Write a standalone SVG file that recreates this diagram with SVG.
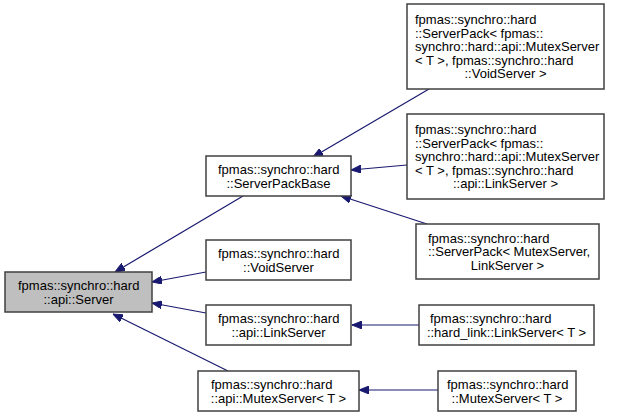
<svg xmlns="http://www.w3.org/2000/svg" width="620" height="417" viewBox="0 0 620 417">
<defs>
<marker id="arr" markerWidth="10" markerHeight="8" refX="10" refY="4" orient="auto" markerUnits="userSpaceOnUse">
<path d="M0,0 L10,4 L0,8 Z" fill="#191970" stroke="#191970" stroke-width="1"/>
</marker>
</defs>
<style>
rect{fill:#ffffff;stroke:#404040;stroke-width:1.5}
rect.cur{fill:#bfbfbf}
text{font-family:"Liberation Sans",Arial,sans-serif;font-size:13px;fill:#000}
.m{text-anchor:middle}
.e{fill:none;stroke:#191970;stroke-width:1.2;marker-end:url(#arr)}
</style>
<rect x="0" y="0" width="620" height="417" style="fill:#fff;stroke:none"/>
<g id="edges">
<path class="e" d="M243,196 L115,272"/>
<path class="e" d="M206,272 L152,282"/>
<path class="e" d="M206,313 L152,303"/>
<path class="e" d="M228,371 L113,314"/>
<path class="e" d="M429,89 L313,157"/>
<path class="e" d="M407,165 L351,170"/>
<path class="e" d="M427,224 L341,196"/>
<path class="e" d="M419,325 L352,325"/>
<path class="e" d="M438,390 L359,390"/>
</g>
<g id="server">
<rect class="cur" x="5" y="272" width="147" height="40"/>
<text x="18" y="290">fpmas::synchro::hard</text>
<text class="m" x="78.5" y="303.5">::api::Server</text>
</g>
<g id="serverpackbase">
<rect x="206" y="156" width="145" height="40"/>
<text x="218" y="174">fpmas::synchro::hard</text>
<text class="m" x="278.5" y="187.5">::ServerPackBase</text>
</g>
<g id="voidserver">
<rect x="206" y="240" width="145" height="40"/>
<text x="218" y="258">fpmas::synchro::hard</text>
<text class="m" x="278.5" y="271.5">::VoidServer</text>
</g>
<g id="api_linkserver">
<rect x="206" y="305" width="145" height="40"/>
<text x="218" y="323">fpmas::synchro::hard</text>
<text class="m" x="278.5" y="336.5">::api::LinkServer</text>
</g>
<g id="api_mutexserver">
<rect x="198" y="371" width="161" height="40"/>
<text x="211" y="389">fpmas::synchro::hard</text>
<text class="m" x="278.5" y="402.5">::api::MutexServer&lt; T &gt;</text>
</g>
<g id="serverpack_void">
<rect x="407" y="4" width="197" height="85"/>
<text x="415" y="24">fpmas::synchro::hard</text>
<text x="415" y="37.5">::ServerPack&lt; fpmas::</text>
<text x="415" y="51">synchro::hard::api::MutexServer</text>
<text x="415" y="64.5">&lt; T &gt;, fpmas::synchro::hard</text>
<text class="m" x="505.5" y="78">::VoidServer &gt;</text>
</g>
<g id="serverpack_link">
<rect x="407" y="114" width="197" height="85"/>
<text x="415" y="134">fpmas::synchro::hard</text>
<text x="415" y="147.5">::ServerPack&lt; fpmas::</text>
<text x="415" y="161">synchro::hard::api::MutexServer</text>
<text x="415" y="174.5">&lt; T &gt;, fpmas::synchro::hard</text>
<text class="m" x="505.5" y="188">::api::LinkServer &gt;</text>
</g>
<g id="serverpack_mutex_link">
<rect x="416" y="224" width="183" height="55"/>
<text x="428" y="242.5">fpmas::synchro::hard</text>
<text x="428" y="256">::ServerPack&lt; MutexServer,</text>
<text class="m" x="507.5" y="269.5">LinkServer &gt;</text>
</g>
<g id="hardlink_linkserver">
<rect x="419" y="305" width="175" height="40"/>
<text x="430" y="323">fpmas::synchro::hard</text>
<text class="m" x="506.5" y="336.5">::hard_link::LinkServer&lt; T &gt;</text>
</g>
<g id="mutexserver">
<rect x="438" y="371" width="138" height="40"/>
<text x="447" y="389">fpmas::synchro::hard</text>
<text class="m" x="507" y="402.5">::MutexServer&lt; T &gt;</text>
</g>
</svg>
